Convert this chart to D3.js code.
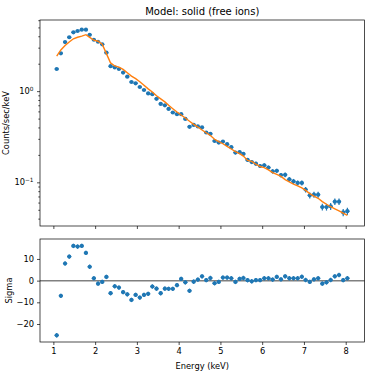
<!DOCTYPE html>
<html>
<head>
<meta charset="utf-8">
<script src="https://cdn.jsdelivr.net/npm/d3@7"></script>
<style>
  body { margin: 0; background: #fff; }
  text { font-family: "DejaVu Sans", sans-serif; }
</style>
</head>
<body>
<div id="chart"></div>
<script>
// bin centres (keV)
const energy = [1.08,1.18,1.28,1.38,1.48,1.58,1.68,1.78,1.87,1.97,
  2.07,2.17,2.27,2.37,2.47,2.57,2.67,2.77,2.87,2.97,
  3.07,3.17,3.27,3.37,3.47,3.57,3.67,3.76,3.86,3.96,
  4.06,4.16,4.26,4.36,4.46,4.56,4.66,4.76,4.86,4.96,
  5.06,5.16,5.26,5.36,5.46,5.55,5.65,5.75,5.85,5.95,
  6.05,6.15,6.25,6.35,6.45,6.55,6.65,6.75,6.85,6.95,
  7.04,7.14,7.24,7.34,7.44,7.54,7.64,7.74,7.84,7.94,8.04];
const binHalf = 0.05;

const counts = [1.75,2.6,3.45,3.9,4.42,4.57,4.72,4.72,4.15,3.66,
  3.48,3.26,2.64,1.88,1.82,1.75,1.6,1.44,1.26,1.22,
  1.11,1.03,0.944,0.927,0.823,0.725,0.70,0.638,0.583,0.559,
  0.559,0.496,0.406,0.426,0.41,0.40,0.352,0.34,0.284,0.273,
  0.28,0.262,0.243,0.212,0.214,0.205,0.176,0.167,0.160,0.151,
  0.154,0.145,0.132,0.134,0.12,0.121,0.108,0.1026,0.0984,0.0984,
  0.0832,0.072,0.0733,0.0733,0.0536,0.0536,0.0545,0.0614,0.0614,0.0468,0.0483];

const countErr = [.0265,.0322,.0371,.0395,.042,.0428,.0435,.0435,.0407,.0383,
  .0373,.0361,.0325,.0274,.027,.0265,.0253,.024,.0224,.0221,
  .0211,.0203,.0194,.0193,.0181,.017,.0167,.016,.0153,.015,
  .015,.0141,.0127,.0131,.0128,.0126,.0119,.0117,.0107,.0104,
  .0106,.0102,.0099,.0092,.0093,.0091,.0084,.0082,.008,.0078,
  .0078,.0076,.0073,.0073,.0069,.007,.0066,.0064,.0063,.0063,
  .0058,.0054,.0054,.0054,.0046,.0046,.0047,.005,.005,.0043,.0044];

const model = [2.42,2.83,3.16,3.46,3.75,3.90,4.02,4.16,3.89,3.62,
  3.53,3.28,2.58,2.04,1.89,1.835,1.73,1.59,1.46,1.37,
  1.27,1.16,1.06,0.979,0.89,0.824,0.762,0.699,0.641,0.59,
  0.547,0.507,0.468,0.4325,0.404,0.375,0.350,0.326,0.297,0.279,
  0.265,0.248,0.232,0.2175,0.2066,0.194,0.174,0.1695,0.158,0.149,
  0.145,0.137,0.128,0.122,0.116,0.107,0.101,0.0956,0.0915,0.0871,
  0.0815,0.0752,0.0705,0.0668,0.0615,0.0575,0.054,0.0512,0.0485,0.046,0.0435];

const sigma = [-25.2,-7.0,7.9,11.1,16.0,15.7,16.0,12.8,6.4,1.1,
  -1.4,-0.6,1.7,-5.8,-2.6,-3.2,-5.3,-6.3,-8.9,-6.6,
  -7.8,-6.6,-6.1,-2.7,-3.7,-5.8,-3.7,-3.8,-3.8,-2.1,
  0.8,-0.8,-4.7,-0.5,0.5,2.0,0.2,1.2,-1.2,-0.6,
  1.4,1.4,1.1,-0.6,0.8,1.2,0.2,-0.3,0.2,0.2,
  1.1,1.1,0.5,1.7,0.6,2.0,1.1,1.1,1.1,1.8,
  0.3,-0.6,0.6,1.1,-1.4,-0.8,0.3,2.0,2.6,0.2,1.1];

const xTicks = [1,2,3,4,5,6,7,8];
const sigmaTicks = [10,0,-10,-20];
const logMajor = [1, 0.1];

const W = 374, H = 374;
const blue = "#1f77b4", orange = "#ff7f0e";
const left = 40, right = 364.5;
const top1 = 20, bot1 = 226, top2 = 239, bot2 = 342;
const fs = 8.3;

const svg = d3.select("#chart").append("svg")
  .attr("width", W).attr("height", H)
  .style("background", "#fff");

const x = d3.scaleLinear().domain([0.68, 8.45]).range([left, right]);
const y1 = d3.scaleLog().domain([0.0332, 6.03]).range([bot1, top1]);
const y2 = d3.scaleLinear().domain([-28.3, 19.2]).range([bot2, top2]);

const pts = energy.map((e, i) => ({e, c: counts[i], err: countErr[i], m: model[i], s: sigma[i]}));

function styleAxis(g) {
  g.select(".domain").remove();
  g.selectAll("line").attr("stroke", "#000").attr("stroke-width", 0.7);
  g.selectAll("text").attr("font-size", fs).attr("fill", "#000").attr("font-family", "DejaVu Sans");
}

// ---- top panel ----
const gTop = svg.append("g");

gTop.append("g")
  .attr("transform", `translate(0,${bot1})`)
  .call(d3.axisBottom(x).tickValues(xTicks).tickSize(3).tickFormat(""))
  .call(styleAxis);

let minor = y1.ticks().filter(v => !logMajor.some(m => Math.abs(v - m) < 1e-9));
gTop.append("g")
  .attr("transform", `translate(${left},0)`)
  .call(d3.axisLeft(y1).tickValues(minor).tickSize(1.7).tickFormat(""))
  .call(styleAxis);

let yMaj = gTop.append("g")
  .attr("transform", `translate(${left},0)`)
  .call(d3.axisLeft(y1).tickValues(logMajor).tickSize(3).tickPadding(3).tickFormat(""))
  .call(styleAxis);

// 10^n labels with a raised exponent
yMaj.selectAll(".tick").append("text")
  .attr("x", -6.5).attr("dy", "0.32em")
  .attr("text-anchor", "end")
  .attr("fill", "#000")
  .attr("font-size", fs)
  .each(function(d) {
    let t = d3.select(this);
    t.append("tspan").text("10");
    t.append("tspan").attr("dy", -3.6).attr("font-size", fs * 0.7)
      .text(d === 1 ? "0" : "\u22121");
  });

// error bars
let eb = gTop.append("g").attr("stroke", blue).attr("stroke-width", 1.2);
eb.selectAll("line.v").data(pts).join("line")
  .attr("x1", d => x(d.e)).attr("x2", d => x(d.e))
  .attr("y1", d => y1(d.c - d.err)).attr("y2", d => y1(d.c + d.err));
eb.selectAll("line.h").data(pts).join("line")
  .attr("x1", d => x(d.e - binHalf)).attr("x2", d => x(d.e + binHalf))
  .attr("y1", d => y1(d.c)).attr("y2", d => y1(d.c));

gTop.append("g").selectAll("circle").data(pts).join("circle")
  .attr("cx", d => x(d.e)).attr("cy", d => y1(d.c))
  .attr("r", 2.1).attr("fill", blue);

let line = d3.line().x(d => x(d.e)).y(d => y1(d.m));
gTop.append("path").datum(pts)
  .attr("d", line)
  .attr("fill", "none").attr("stroke", orange).attr("stroke-width", 1.4);

gTop.append("rect")
  .attr("x", left).attr("y", top1)
  .attr("width", right - left).attr("height", bot1 - top1)
  .attr("fill", "none").attr("stroke", "#000").attr("stroke-width", 0.7);

svg.append("text")
  .attr("x", (left + right) / 2).attr("y", 14.5)
  .attr("text-anchor", "middle").attr("font-size", 10)
  .text("Model: solid (free ions)");

svg.append("text")
  .attr("transform", `translate(8.5,${(top1 + bot1) / 2}) rotate(-90)`)
  .attr("text-anchor", "middle").attr("font-size", fs)
  .text("Counts/sec/keV");

// ---- bottom panel ----
const gBot = svg.append("g");

gBot.append("g")
  .attr("transform", `translate(0,${bot2})`)
  .call(d3.axisBottom(x).tickValues(xTicks).tickSize(3).tickPadding(3.5).tickFormat(d3.format("d")))
  .call(styleAxis);

gBot.append("g")
  .attr("transform", `translate(${left},0)`)
  .call(d3.axisLeft(y2).tickValues(sigmaTicks).tickSize(3).tickPadding(3)
    .tickFormat(d => d < 0 ? "\u2212" + Math.abs(d) : d))
  .call(styleAxis);

gBot.append("line")
  .attr("x1", left).attr("x2", right)
  .attr("y1", y2(0)).attr("y2", y2(0))
  .attr("stroke", "#808080").attr("stroke-width", 1.5);

let eb2 = gBot.append("g").attr("stroke", blue).attr("stroke-width", 1.2);
eb2.selectAll("line.v").data(pts).join("line")
  .attr("x1", d => x(d.e)).attr("x2", d => x(d.e))
  .attr("y1", d => y2(d.s - 1)).attr("y2", d => y2(d.s + 1));
eb2.selectAll("line.h").data(pts).join("line")
  .attr("x1", d => x(d.e - binHalf)).attr("x2", d => x(d.e + binHalf))
  .attr("y1", d => y2(d.s)).attr("y2", d => y2(d.s));

gBot.append("g").selectAll("circle").data(pts).join("circle")
  .attr("cx", d => x(d.e)).attr("cy", d => y2(d.s))
  .attr("r", 2.1).attr("fill", blue);

gBot.append("rect")
  .attr("x", left).attr("y", top2)
  .attr("width", right - left).attr("height", bot2 - top2)
  .attr("fill", "none").attr("stroke", "#000").attr("stroke-width", 0.7);

svg.append("text")
  .attr("x", (left + right) / 2).attr("y", 368.5)
  .attr("text-anchor", "middle").attr("font-size", fs)
  .text("Energy (keV)");

svg.append("text")
  .attr("transform", `translate(12,${(top2 + bot2) / 2}) rotate(-90)`)
  .attr("text-anchor", "middle").attr("font-size", fs)
  .text("Sigma");
</script>
</body>
</html>
